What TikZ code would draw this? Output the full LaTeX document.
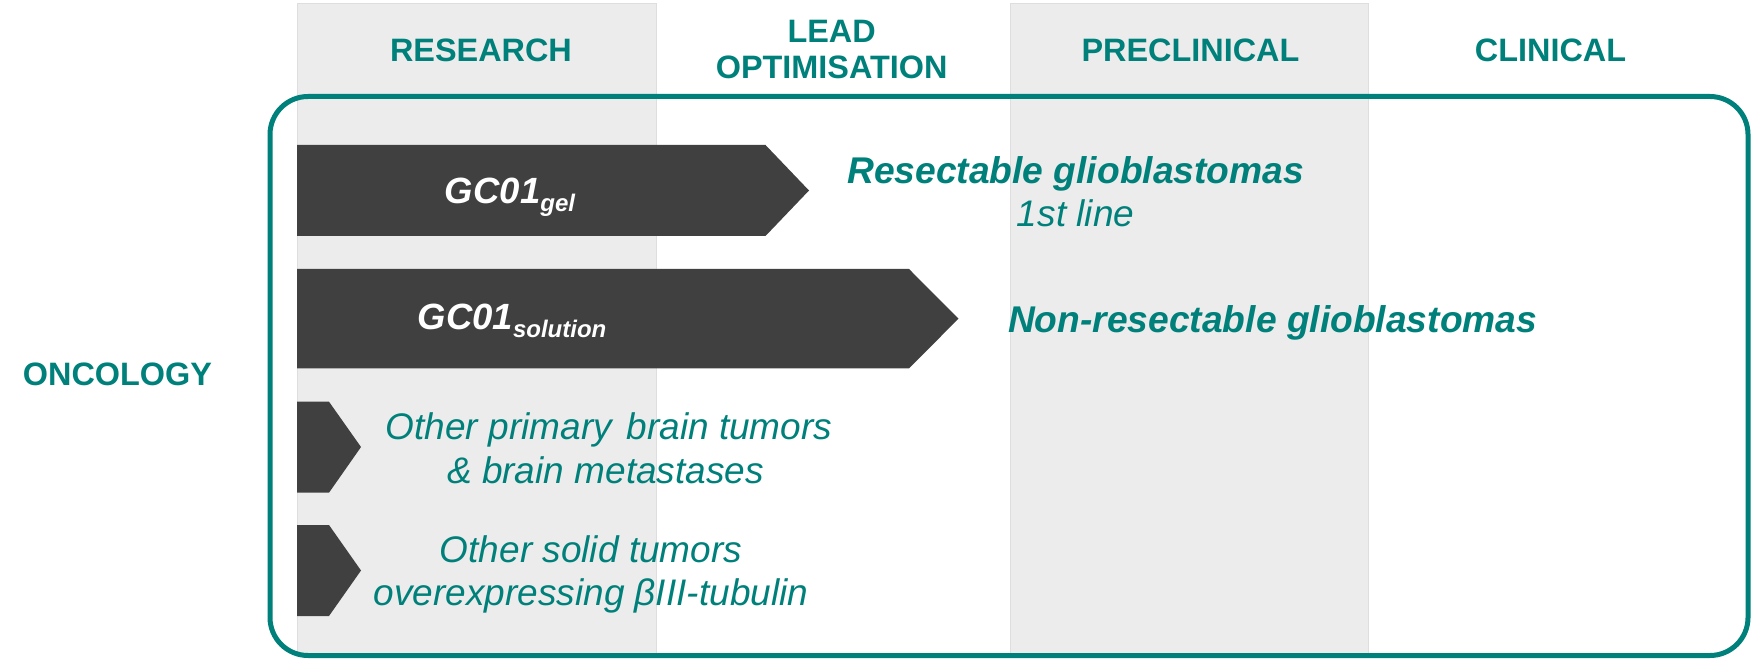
\documentclass[tikz,border=0pt]{standalone}
\usepackage{fontspec}
\setmainfont{Liberation Sans}
\definecolor{tealc}{RGB}{0,128,122}
\definecolor{barc}{RGB}{64,64,64}
\definecolor{colc}{RGB}{236,236,236}
\definecolor{colline}{RGB}{222,222,222}
\begin{document}
\begin{tikzpicture}[x=1pt,y=-1pt,
  hdr/.style={text=tealc,font=\fontsize{32.4}{36}\selectfont\bfseries,anchor=base,inner sep=0pt},
  lbl/.style={text=tealc,font=\fontsize{37}{44}\selectfont\itshape,anchor=base,inner sep=0pt},
  lblb/.style={text=tealc,font=\fontsize{37.2}{44}\selectfont\bfseries\itshape,anchor=base,inner sep=0pt},
  gc/.style={text=white,font=\fontsize{36.5}{44}\selectfont\bfseries\itshape,anchor=base,inner sep=0pt},
  barshape/.style={fill=barc},
  colshape/.style={fill=colc,draw=colline,line width=1pt},
  framebox/.style={draw=tealc,line width=5pt,rounded corners=38pt}]
\path[use as bounding box] (0,0) rectangle (1755,660);
% columns
\draw[colshape] (297,3.5) rectangle (656,655);
\draw[colshape] (1010,3.5) rectangle (1368,655);
% frame
\draw[framebox] (270,96.5) rectangle (1748,655.5);
% bars
\fill[barshape] (297,145) -- (765.5,145) -- (809,190.5) -- (765.5,236) -- (297,236) -- cycle;
\fill[barshape] (297,269) -- (909,269) -- (958.5,318.7) -- (909,368.3) -- (297,368.3) -- cycle;
\fill[barshape] (297,401.7) -- (329,401.7) -- (361,447) -- (329,492.7) -- (297,492.7) -- cycle;
\fill[barshape] (297,525) -- (329,525) -- (361,570.5) -- (329,616) -- (297,616) -- cycle;
% headers
\node[hdr] (research) at (481,61.5) {RESEARCH};
\node[hdr] (lead1) at (831.6,42.5) {LEAD};
\node[hdr] (lead2) at (831.6,79) {OPTIMISATION};
\node[hdr] (precl) at (1190.5,61.5) {PRECLINICAL};
\node[hdr] (clin) at (1550.5,61.5) {CLINICAL};
\node[hdr] (onc) at (117.5,385) {ONCOLOGY};
% bar labels
\node[gc] (g1) at (510,203.5) {GC01\raisebox{-8pt}{\fontsize{24}{24}\selectfont gel}};
\node[gc] (g2) at (512,329.3) {GC01\raisebox{-8pt}{\fontsize{24}{24}\selectfont solution}};
% indications
\node[lblb] (r1) at (1075.6,183.5) {Resectable glioblastomas};
\node[lbl] (r2) at (1075.6,226.5) {1st line};
\node[lblb] (n1) at (1272.6,332) {Non-resectable glioblastomas};
\node[lbl] (o1) at (609,439.5) {Other primary\hspace{0.12em} brain tumors};
\node[lbl] (o2) at (605.5,483) {\& brain metastases};
\node[lbl] (s1) at (591,562.5) {Other solid tumors};
\node[lbl] (s2) at (591,605.5) {overexpressing βIII-tubulin};
\end{tikzpicture}
\end{document}
